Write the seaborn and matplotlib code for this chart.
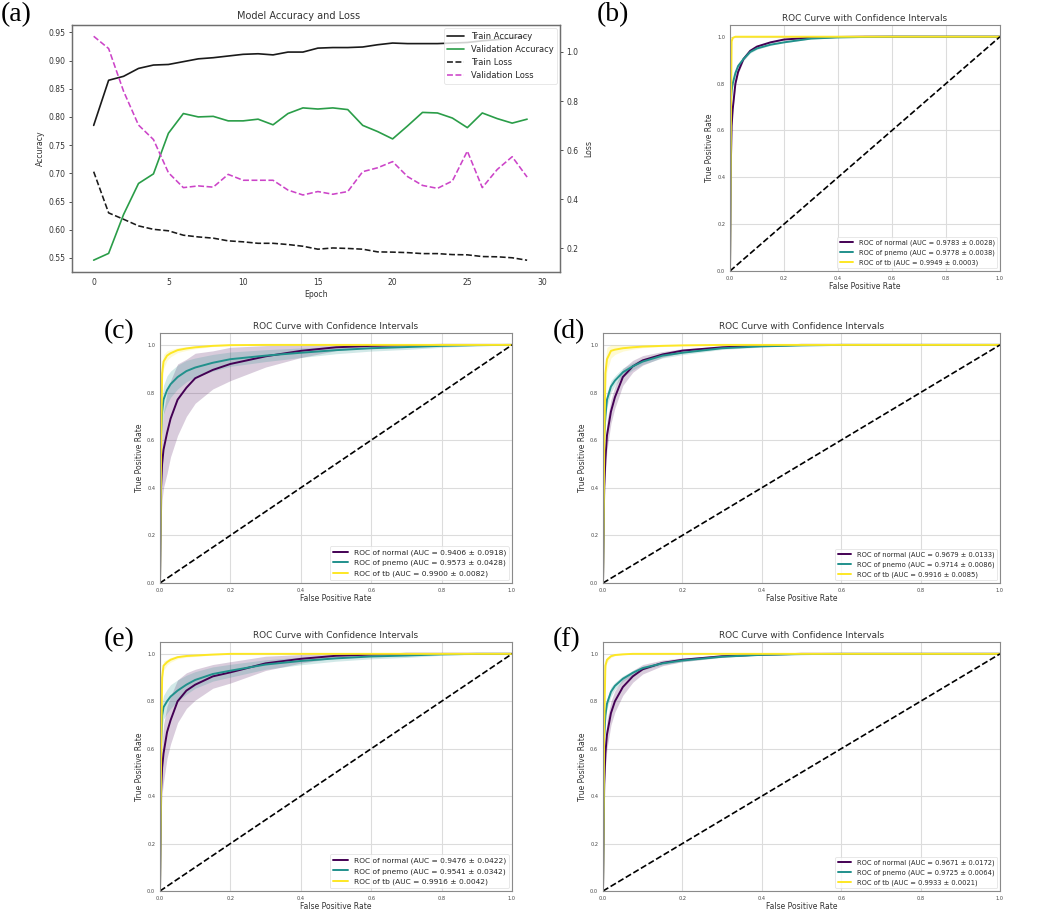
import numpy as np
import matplotlib
matplotlib.use("Agg")
import matplotlib.pyplot as plt
import seaborn as sns

# ---------------- data: panel (a) ----------------
EPOCHS = list(range(30))
TRAIN_ACC = [0.785, 0.865, 0.872, 0.886, 0.892, 0.893, 0.898, 0.903, 0.905, 0.908,
             0.911, 0.912, 0.910, 0.915, 0.915, 0.922, 0.923, 0.923, 0.924, 0.928,
             0.931, 0.930, 0.930, 0.930, 0.931, 0.932, 0.935, 0.937, 0.940, 0.943]
VAL_ACC = [0.546, 0.558, 0.627, 0.682, 0.699, 0.771, 0.806, 0.800, 0.801, 0.793,
           0.793, 0.796, 0.786, 0.806, 0.816, 0.814, 0.816, 0.813, 0.785, 0.774,
           0.761, 0.784, 0.808, 0.807, 0.798, 0.781, 0.807, 0.797, 0.789, 0.796]
TRAIN_LOSS = [0.512, 0.344, 0.318, 0.291, 0.277, 0.271, 0.253, 0.246, 0.241, 0.230,
              0.226, 0.220, 0.220, 0.215, 0.208, 0.196, 0.201, 0.199, 0.196, 0.185,
              0.184, 0.182, 0.178, 0.178, 0.174, 0.173, 0.166, 0.165, 0.161, 0.151]
VAL_LOSS = [1.064, 1.014, 0.840, 0.702, 0.643, 0.508, 0.447, 0.454, 0.449, 0.501,
            0.477, 0.477, 0.477, 0.437, 0.417, 0.431, 0.420, 0.431, 0.512, 0.528,
            0.553, 0.492, 0.456, 0.444, 0.474, 0.596, 0.447, 0.521, 0.573, 0.490]
ACC_TICKS = [0.55, 0.60, 0.65, 0.70, 0.75, 0.80, 0.85, 0.90, 0.95]
LOSS_TICKS = [0.2, 0.4, 0.6, 0.8, 1.0]
EPOCH_TICKS = [0, 5, 10, 15, 20, 25, 30]

# ---------------- data: ROC panels ----------------
CLASSES = ["normal", "pnemo", "tb"]
FPR = [0.0, 0.003, 0.006, 0.01, 0.02, 0.03, 0.05, 0.075, 0.1, 0.15,
       0.2, 0.3, 0.4, 0.5, 0.6, 0.7, 0.8, 0.9, 1.0]
DIAG = [0.0, 1.0]
ROC_TICKS = [0.0, 0.2, 0.4, 0.6, 0.8, 1.0]

# (b)
B_NORMAL = [0, 0.45, 0.62, 0.69, 0.80, 0.85, 0.905, 0.94, 0.958, 0.976, 0.988, 0.996, 0.999, 1, 1, 1, 1, 1, 1]
B_PNEMO = [0, 0.72, 0.77, 0.80, 0.845, 0.875, 0.905, 0.935, 0.95, 0.966, 0.976, 0.992, 0.997, 0.999, 1, 1, 1, 1, 1]
B_TB = [0, 0.60, 0.98, 0.995, 1, 1, 1, 1, 1, 1, 1, 1, 1, 1, 1, 1, 1, 1, 1]
B_NORMAL_CI = [0, 0.01, 0.01, 0.01, 0.01, 0.008, 0.006, 0.005, 0.004, 0.003, 0.002, 0.001, 0, 0, 0, 0, 0, 0, 0]
B_PNEMO_CI = [0, 0.01, 0.01, 0.01, 0.01, 0.008, 0.006, 0.005, 0.004, 0.003, 0.002, 0.001, 0, 0, 0, 0, 0, 0, 0]
B_TB_CI = [0, 0.01, 0.002, 0.001, 0, 0, 0, 0, 0, 0, 0, 0, 0, 0, 0, 0, 0, 0, 0]
B_AUC = [0.9783, 0.9778, 0.9949]
B_STD = [0.0028, 0.0038, 0.0003]

# (c)
C_NORMAL = [0, 0.40, 0.50, 0.56, 0.63, 0.69, 0.77, 0.82, 0.86, 0.895, 0.92, 0.952, 0.975, 0.99, 0.996, 0.999, 1, 1, 1]
C_PNEMO = [0, 0.62, 0.72, 0.77, 0.81, 0.835, 0.865, 0.89, 0.905, 0.925, 0.94, 0.955, 0.967, 0.978, 0.986, 0.991, 0.996, 0.999, 1]
C_TB = [0, 0.55, 0.88, 0.93, 0.955, 0.965, 0.978, 0.985, 0.99, 0.996, 0.999, 1, 1, 1, 1, 1, 1, 1, 1]
C_NORMAL_CI = [0, 0.13, 0.15, 0.16, 0.17, 0.16, 0.15, 0.12, 0.105, 0.08, 0.07, 0.045, 0.028, 0.014, 0.007, 0.003, 0.001, 0, 0]
C_PNEMO_CI = [0, 0.06, 0.06, 0.06, 0.06, 0.055, 0.05, 0.045, 0.04, 0.035, 0.03, 0.025, 0.02, 0.015, 0.012, 0.01, 0.006, 0.003, 0]
C_TB_CI = [0, 0.05, 0.04, 0.03, 0.02, 0.015, 0.01, 0.008, 0.006, 0.003, 0.001, 0, 0, 0, 0, 0, 0, 0, 0]
C_AUC = [0.9406, 0.9573, 0.9900]
C_STD = [0.0918, 0.0428, 0.0082]

# (d)
D_NORMAL = [0, 0.40, 0.52, 0.62, 0.72, 0.78, 0.865, 0.91, 0.935, 0.96, 0.976, 0.99, 0.997, 1, 1, 1, 1, 1, 1]
D_PNEMO = [0, 0.62, 0.70, 0.77, 0.825, 0.85, 0.885, 0.91, 0.93, 0.955, 0.967, 0.986, 0.994, 0.998, 1, 1, 1, 1, 1]
D_TB = [0, 0.55, 0.88, 0.94, 0.975, 0.98, 0.986, 0.99, 0.993, 0.996, 0.998, 1, 1, 1, 1, 1, 1, 1, 1]
D_NORMAL_CI = [0, 0.06, 0.06, 0.06, 0.05, 0.045, 0.035, 0.025, 0.02, 0.012, 0.008, 0.004, 0.002, 0, 0, 0, 0, 0, 0]
D_PNEMO_CI = [0, 0.03, 0.03, 0.03, 0.025, 0.02, 0.018, 0.015, 0.012, 0.01, 0.008, 0.005, 0.003, 0.001, 0, 0, 0, 0, 0]
D_TB_CI = [0, 0.05, 0.06, 0.05, 0.03, 0.02, 0.012, 0.008, 0.005, 0.003, 0.001, 0, 0, 0, 0, 0, 0, 0, 0]
D_AUC = [0.9679, 0.9714, 0.9916]
D_STD = [0.0133, 0.0086, 0.0085]

# (e)
E_NORMAL = [0, 0.42, 0.52, 0.58, 0.67, 0.72, 0.80, 0.845, 0.87, 0.905, 0.922, 0.96, 0.979, 0.992, 0.997, 1, 1, 1, 1]
E_PNEMO = [0, 0.62, 0.74, 0.775, 0.80, 0.82, 0.845, 0.87, 0.89, 0.915, 0.929, 0.955, 0.97, 0.981, 0.989, 0.993, 0.998, 1, 1]
E_TB = [0, 0.55, 0.90, 0.95, 0.965, 0.975, 0.986, 0.991, 0.993, 0.997, 1, 1, 1, 1, 1, 1, 1, 1, 1]
E_NORMAL_CI = [0, 0.10, 0.11, 0.12, 0.11, 0.10, 0.09, 0.075, 0.065, 0.05, 0.045, 0.03, 0.018, 0.008, 0.004, 0.002, 0, 0, 0]
E_PNEMO_CI = [0, 0.06, 0.055, 0.05, 0.05, 0.05, 0.045, 0.04, 0.035, 0.03, 0.027, 0.02, 0.016, 0.012, 0.01, 0.008, 0.004, 0.002, 0]
E_TB_CI = [0, 0.04, 0.03, 0.02, 0.012, 0.01, 0.007, 0.005, 0.004, 0.002, 0.001, 0, 0, 0, 0, 0, 0, 0, 0]
E_AUC = [0.9476, 0.9541, 0.9916]
E_STD = [0.0422, 0.0342, 0.0042]

# (f)
F_NORMAL = [0, 0.45, 0.58, 0.66, 0.75, 0.80, 0.86, 0.905, 0.935, 0.962, 0.975, 0.99, 0.997, 1, 1, 1, 1, 1, 1]
F_PNEMO = [0, 0.65, 0.74, 0.79, 0.84, 0.865, 0.895, 0.92, 0.94, 0.96, 0.972, 0.988, 0.996, 0.999, 1, 1, 1, 1, 1]
F_TB = [0, 0.70, 0.95, 0.975, 0.99, 0.995, 0.998, 1, 1, 1, 1, 1, 1, 1, 1, 1, 1, 1, 1]
F_NORMAL_CI = [0, 0.06, 0.06, 0.06, 0.05, 0.045, 0.035, 0.025, 0.02, 0.012, 0.008, 0.004, 0.002, 0, 0, 0, 0, 0, 0]
F_PNEMO_CI = [0, 0.02, 0.02, 0.02, 0.02, 0.015, 0.012, 0.01, 0.008, 0.006, 0.005, 0.003, 0.002, 0.001, 0, 0, 0, 0, 0]
F_TB_CI = [0, 0.03, 0.02, 0.012, 0.006, 0.003, 0.002, 0, 0, 0, 0, 0, 0, 0, 0, 0, 0, 0, 0]
F_AUC = [0.9671, 0.9725, 0.9933]
F_STD = [0.0172, 0.0064, 0.0021]

# ---------------- style / layout ----------------
W, H = 1052, 921
ROC_COLORS = ["#440154", "#21918c", "#fde725"]
SPINE = "#8a8a8a"

sns.set_theme(style="white")
plt.rcParams["font.family"] = ["DejaVu Sans"]

fig = plt.figure(figsize=(W / 100, H / 100), dpi=100)
fig.patch.set_facecolor("white")


def px_rect(l, t, r, b):
    return [l / W, (H - b) / H, (r - l) / W, (b - t) / H]


def style_spines(ax, color=SPINE, lw=0.8):
    for s in ax.spines.values():
        s.set_visible(True)
        s.set_color(color)
        s.set_linewidth(lw)


# ---- panel (a) ----
axa = fig.add_axes(px_rect(72, 25, 560, 272))
sns.lineplot(x=EPOCHS, y=TRAIN_ACC, color="#1a1a1a", lw=1.2, ax=axa, label="Train Accuracy")
sns.lineplot(x=EPOCHS, y=VAL_ACC, color="#2a9d48", lw=1.2, ax=axa, label="Validation Accuracy")
axl = axa.twinx()
sns.lineplot(x=EPOCHS, y=TRAIN_LOSS, color="#1a1a1a", lw=1.15, ls="--", ax=axl, label="Train Loss")
sns.lineplot(x=EPOCHS, y=VAL_LOSS, color="#cc44c8", lw=1.15, ls="--", ax=axl, label="Validation Loss")
h1, l1 = axa.get_legend_handles_labels()
h2, l2 = axl.get_legend_handles_labels()
if axa.get_legend():
    axa.get_legend().remove()
if axl.get_legend():
    axl.get_legend().remove()
leg = axl.legend(h1 + h2, l1 + l2, loc="upper right", fontsize=6, frameon=True,
                 borderaxespad=0.4, handlelength=2.0)
leg.get_frame().set_edgecolor("#dddddd")
leg.get_frame().set_linewidth(0.6)
axa.set_xlim(-1.45, 31.2)
axa.set_ylim(0.525, 0.963)
axl.set_ylim(0.103, 1.110)
axa.set_xticks(EPOCH_TICKS)
axa.set_yticks(ACC_TICKS)
axa.set_yticklabels([f"{v:.2f}" for v in ACC_TICKS])
axl.set_yticks(LOSS_TICKS)
axl.set_yticklabels([f"{v:.1f}" for v in LOSS_TICKS])
axa.set_xlabel("Epoch", fontsize=5.6, color="#333333", labelpad=2)
axa.set_ylabel("Accuracy", fontsize=5.6, color="#333333", labelpad=3)
axl.set_ylabel("Loss", fontsize=5.6, color="#333333", labelpad=4)
axa.set_title("Model Accuracy and Loss", fontsize=7, color="#333333", pad=4, x=0.465)
for ax in (axa, axl):
    ax.tick_params(labelsize=5.5, length=2.5, width=0.6, pad=2, colors="#333333")
    style_spines(ax, "#6e6e6e", 0.9)


# ---- ROC panels ----
def roc_panel(rect, tprs, cis, aucs, stds, legend_size):
    ax = fig.add_axes(rect)
    for cls, color, tpr, ci, m, s in zip(CLASSES, ROC_COLORS, tprs, cis, aucs, stds):
        tpr = np.asarray(tpr, dtype=float)
        ci = np.asarray(ci, dtype=float)
        ax.fill_between(FPR, np.clip(tpr - ci, 0, 1), np.clip(tpr + ci, 0, 1),
                        color=color, alpha=0.2, lw=0)
        sns.lineplot(x=FPR, y=tpr, color=color, lw=1.4, ax=ax,
                     label=f"ROC of {cls} (AUC = {m:.4f} \u00b1 {s:.4f})")
    sns.lineplot(x=DIAG, y=DIAG, color="black", lw=1.2, ls="--", ax=ax)
    ax.set_xlim(0, 1)
    ax.set_ylim(0, 1.05)
    ax.set_xticks(ROC_TICKS)
    ax.set_yticks(ROC_TICKS)
    ax.set_xticklabels([f"{v:.1f}" for v in ROC_TICKS])
    ax.set_yticklabels([f"{v:.1f}" for v in ROC_TICKS])
    ax.grid(True, color="#dcdcdc", lw=0.8)
    ax.tick_params(labelsize=3.6, length=2, width=0.5, pad=1.5, colors="#444444")
    ax.set_xlabel("False Positive Rate", fontsize=5.5, color="#333333", labelpad=1)
    ax.set_ylabel("True Positive Rate", fontsize=5.5, color="#333333", labelpad=2)
    ax.set_title("ROC Curve with Confidence Intervals", fontsize=6.4, color="#333333", pad=3)
    lg = ax.legend(loc="lower right", fontsize=legend_size, frameon=True, borderaxespad=0.4)
    lg.get_frame().set_edgecolor("#dddddd")
    lg.get_frame().set_linewidth(0.6)
    style_spines(ax)
    return ax


roc_panel(px_rect(730, 25, 1000, 271), [B_NORMAL, B_PNEMO, B_TB],
          [B_NORMAL_CI, B_PNEMO_CI, B_TB_CI], B_AUC, B_STD, 4.8)
roc_panel(px_rect(160, 333, 512, 583), [C_NORMAL, C_PNEMO, C_TB],
          [C_NORMAL_CI, C_PNEMO_CI, C_TB_CI], C_AUC, C_STD, 5.4)
roc_panel(px_rect(603, 333, 1000, 583), [D_NORMAL, D_PNEMO, D_TB],
          [D_NORMAL_CI, D_PNEMO_CI, D_TB_CI], D_AUC, D_STD, 4.9)
roc_panel(px_rect(160, 642, 512, 891), [E_NORMAL, E_PNEMO, E_TB],
          [E_NORMAL_CI, E_PNEMO_CI, E_TB_CI], E_AUC, E_STD, 5.4)
roc_panel(px_rect(603, 642, 1000, 891), [F_NORMAL, F_PNEMO, F_TB],
          [F_NORMAL_CI, F_PNEMO_CI, F_TB_CI], F_AUC, F_STD, 4.9)

# ---- panel letters ----
LETTERS = [("(a)", 1, 2), ("(b)", 597, 2), ("(c)", 104, 319),
           ("(d)", 553, 319), ("(e)", 104, 627), ("(f)", 553, 627)]
for txt, x, y in LETTERS:
    fig.text(x / W, 1 - y / H, txt, fontsize=20, family="Liberation Serif",
             ha="left", va="top", color="black")

fig.savefig("out.png", dpi=100, facecolor="white")
